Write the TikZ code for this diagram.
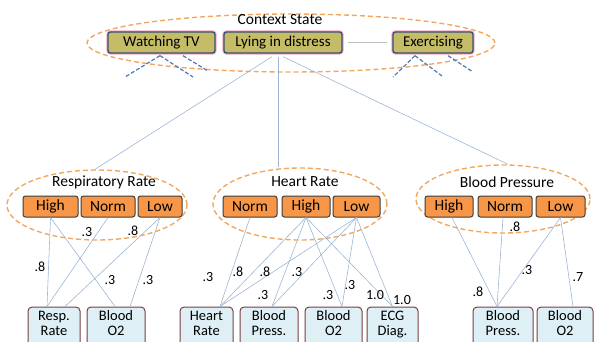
\documentclass[tikz,border=0pt]{standalone}
\usepackage{fontspec}
\setmainfont{Carlito}
\usetikzlibrary{shapes.geometric}
\definecolor{olivebox}{RGB}{196,188,102}
\definecolor{olivedraw}{RGB}{62,78,110}
\definecolor{pinkglow}{RGB}{236,168,196}
\definecolor{orangebox}{RGB}{247,150,70}
\definecolor{orangedraw}{RGB}{60,60,60}
\definecolor{cyanbox}{RGB}{222,240,246}
\definecolor{cyandraw}{RGB}{122,64,64}
\definecolor{elldash}{RGB}{240,168,96}
\definecolor{edgecol}{RGB}{157,181,213}
\definecolor{bluedash}{RGB}{79,121,181}
\tikzset{
  ctxbox/.style={draw=olivedraw, fill=olivebox, line width=1.3pt, rounded corners=2.5pt,
    minimum height=21pt, inner sep=0pt, font=\fontsize{15}{17}\selectfont,
    preaction={draw=pinkglow, line width=3.2pt, rounded corners=3pt}},
  statebox/.style={draw=orangedraw, fill=orangebox, line width=1pt, rounded corners=2.5pt,
    minimum height=21pt, inner sep=0pt, font=\fontsize{15.5}{17}\selectfont},
  obsbox/.style={draw=cyandraw, fill=cyanbox, line width=1pt, rounded corners=4pt,
    minimum height=40pt, inner sep=0pt},
  obstext/.style={anchor=north, inner sep=0pt, align=center, font=\fontsize{14.5}{15}\selectfont},
  grpell/.style={ellipse, draw=elldash, line width=1.4pt, dash pattern=on 5pt off 3pt, inner sep=0pt},
  grptitle/.style={font=\fontsize{15.5}{17}\selectfont, inner sep=0pt},
  edge/.style={draw=edgecol, line width=0.6pt},
  bdash/.style={draw=bluedash, line width=1.2pt, dash pattern=on 4pt off 2pt},
  prob/.style={font=\fontsize{14}{16}\selectfont, inner sep=0pt}
}
\begin{document}
\begin{tikzpicture}[x=1pt,y=-1pt]
\useasboundingbox (0,0) rectangle (595,341);
\clip (0,0) rectangle (595,341);
% ellipses
\node[grpell, minimum width=408pt, minimum height=58pt] (ctxEll) at (291,43) {};
\node[grpell, minimum width=180pt, minimum height=70pt] (rrEll) at (97,205) {};
\node[grpell, minimum width=174pt, minimum height=72pt] (hrEll) at (300,204) {};
\node[grpell, minimum width=174pt, minimum height=68pt] (bpEll) at (503,199) {};
% titles
\node[grptitle] (ctxT) at (280,20) {Context State};
\node[grptitle] (rrT) at (104,182) {Respiratory Rate};
\node[grptitle] (hrT) at (305,182) {Heart Rate};
\node[grptitle] (bpT) at (507,182) {Blood Pressure};
% context boxes
\node[ctxbox, minimum width=107pt] (tv) at (161.5,42.5) {Watching TV};
\node[ctxbox, minimum width=118pt] (ly) at (283,42.5) {Lying in distress};
\node[ctxbox, minimum width=80pt] (ex) at (433,42.5) {Exercising};
\draw[draw=gray!50, line width=0.6pt, shorten <=5pt, shorten >=5pt] (ly.east) -- (ex.west);
% edges from context
\draw[edge] ([xshift=-11pt,yshift=-3pt]ly.south) -- ([xshift=-2pt]rrEll.north);
\draw[edge] ([xshift=-5pt,yshift=-3pt]ly.south) -- ([xshift=-22pt]hrEll.north);
\draw[edge] ([yshift=-3pt]ly.south) -- ([xshift=5pt]bpEll.north);
% blue dashed stubs
\coordinate (tvA) at (125,77);
\coordinate (tvB) at (193,77);
\coordinate (tvC) at (208,71);
\coordinate (exA) at (393,77);
\coordinate (exB) at (442,76);
\coordinate (exC) at (473,72);
\draw[bdash] ([xshift=-1.5pt,yshift=-2pt]tv.south) -- (tvA);
\draw[bdash] ([xshift=-1.5pt,yshift=-2pt]tv.south) -- (tvB);
\draw[bdash] ([xshift=21.5pt,yshift=-2pt]tv.south) -- (tvC);
\draw[bdash] ([xshift=-18pt,yshift=-2pt]ex.south) -- (exA);
\draw[bdash] ([xshift=-18pt,yshift=-2pt]ex.south) -- (exB);
\draw[bdash] ([xshift=15pt,yshift=-2pt]ex.south) -- (exC);
% state boxes
\node[statebox, minimum width=55pt] (rrHigh) at (50.5,206.5) {High};
\node[statebox, minimum width=54pt] (rrNorm) at (108,206.5) {Norm};
\node[statebox, minimum width=44pt] (rrLow) at (160,206.5) {Low};
\node[statebox, minimum width=54pt] (hrNorm) at (250,206.5) {Norm};
\node[statebox, minimum width=48pt] (hrHigh) at (306,206.5) {High};
\node[statebox, minimum width=47pt] (hrLow) at (356.5,206.5) {Low};
\node[statebox, minimum width=48pt] (bpHigh) at (449,206.5) {High};
\node[statebox, minimum width=54pt] (bpNorm) at (505,206.5) {Norm};
\node[statebox, minimum width=49pt] (bpLow) at (560.5,206.5) {Low};
% observation boxes
\node[obsbox, minimum width=52pt] (rrResp) at (54,327) {};
\node[obsbox, minimum width=58pt] (rrO2) at (116,327) {};
\node[obsbox, minimum width=53pt] (hrHR) at (206.5,327) {};
\node[obsbox, minimum width=58pt] (hrBP) at (269,327) {};
\node[obsbox, minimum width=57pt] (hrO2) at (333.5,327) {};
\node[obsbox, minimum width=51pt] (hrECG) at (392.5,327) {};
\node[obsbox, minimum width=60pt] (bpBP) at (503,327) {};
\node[obsbox, minimum width=56pt] (bpO2) at (565,327) {};
\node[obstext] (rrRespT) at ([yshift=-4pt]rrResp.north) {Resp.\\Rate};
\node[obstext] (rrO2T) at ([yshift=-4pt]rrO2.north) {Blood\\O2};
\node[obstext] (hrHRT) at ([yshift=-4pt]hrHR.north) {Heart\\Rate};
\node[obstext] (hrBPT) at ([yshift=-4pt]hrBP.north) {Blood\\Press.};
\node[obstext] (hrO2T) at ([yshift=-4pt]hrO2.north) {Blood\\O2};
\node[obstext] (hrECGT) at ([yshift=-4pt]hrECG.north) {ECG\\Diag.};
\node[obstext] (bpBPT) at ([yshift=-4pt]bpBP.north) {Blood\\Press.};
\node[obstext] (bpO2T) at ([yshift=-4pt]bpO2.north) {Blood\\O2};
% respiratory edges
\draw[edge] (rrHigh.south) -- ([xshift=-7pt]rrResp.north);
\draw[edge] (rrHigh.south) -- ([xshift=-1pt]rrO2.north);
\draw[edge] (rrNorm.south) -- ([xshift=-7pt]rrResp.north);
\draw[edge] (rrLow.south) -- ([xshift=11pt]rrResp.north);
\draw[edge] (rrLow.south) -- ([xshift=14pt]rrO2.north);
% heart edges
\draw[edge] (hrNorm.south) -- ([xshift=13.5pt]hrHR.north);
\draw[edge] (hrHigh.south) -- ([xshift=13.5pt]hrHR.north);
\draw[edge] (hrHigh.south) -- ([xshift=3pt]hrBP.north);
\draw[edge] (hrHigh.south) -- ([xshift=8.5pt]hrO2.north);
\draw[edge] (hrHigh.south) -- (hrECG.north);
\draw[edge] (hrLow.south) -- ([xshift=13.5pt]hrHR.north);
\draw[edge] (hrLow.south) -- ([xshift=3pt]hrBP.north);
\draw[edge] (hrLow.south) -- ([xshift=8.5pt]hrO2.north);
\draw[edge] (hrLow.south) -- (hrECG.north);
% bp edges
\draw[edge] ([xshift=3pt]bpHigh.south) -- ([xshift=-6pt]bpBP.north);
\draw[edge] ([xshift=-2pt]bpNorm.south) -- ([xshift=-6pt]bpBP.north);
\draw[edge] (bpLow.south) -- ([xshift=-6pt]bpBP.north);
\draw[edge] (bpLow.south) -- ([xshift=8pt]bpO2.north);
% probabilities
\node[prob] (p1) at (40,267) {.8};
\node[prob] (p2) at (87,232) {.3};
\node[prob] (p3) at (133,231) {.8};
\node[prob] (p4) at (110,280) {.3};
\node[prob] (p5) at (148,280) {.3};
\node[prob] (p6) at (208,277) {.3};
\node[prob] (p7) at (238,272) {.8};
\node[prob] (p8) at (265,272) {.8};
\node[prob] (p9) at (297,272) {.3};
\node[prob] (p10) at (263,295) {.3};
\node[prob] (p11) at (350,285) {.3};
\node[prob] (p12) at (328,295) {.3};
\node[prob] (p13) at (375,295) {1.0};
\node[prob] (p14) at (402,300) {1.0};
\node[prob] (p15) at (515,227) {.8};
\node[prob] (p16) at (527,270) {.3};
\node[prob] (p17) at (578,277) {.7};
\node[prob] (p18) at (478,292) {.8};
\end{tikzpicture}
\end{document}
